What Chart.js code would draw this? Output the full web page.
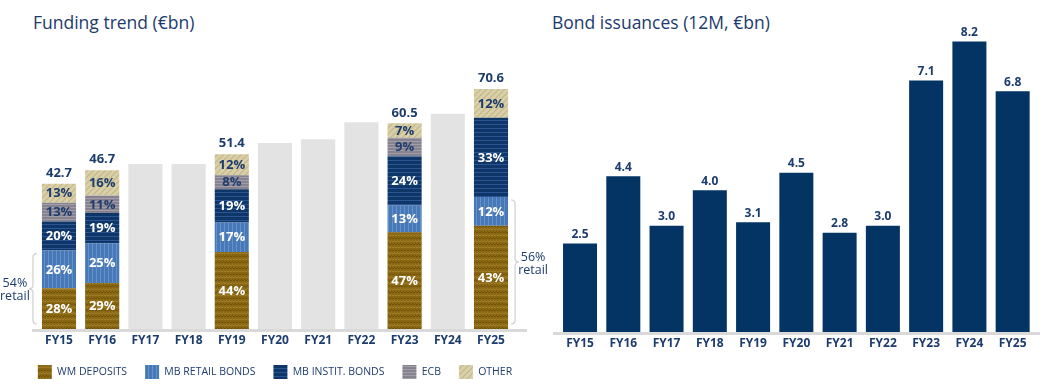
<!DOCTYPE html>
<html><head><meta charset="utf-8">
<script src="https://cdn.jsdelivr.net/npm/chart.js@4"></script>
<style>
html,body{margin:0;padding:0;background:#fff;}
body{width:1043px;height:390px;overflow:hidden;position:relative;font-family:'Open Sans',sans-serif;}
.title{position:absolute;top:10px;font-size:17.5px;color:#1b3b6c;white-space:nowrap;}
#w1{position:absolute;left:0;top:0;width:550px;height:390px;}
#w2{position:absolute;left:550px;top:0;width:493px;height:390px;}
</style></head><body>
<div class="title" style="left:33px">Funding trend (€bn)</div>
<div class="title" style="left:552px">Bond issuances (12M, €bn)</div>
<div id="w1"><canvas id="c1"></canvas></div>
<div id="w2"><canvas id="c2"></canvas></div>
<script>
// ---------- DATA ----------
const categories = ['FY15','FY16','FY17','FY18','FY19','FY20','FY21','FY22','FY23','FY24','FY25'];
const fundingTotals = [42.7, 46.7, 48.5, 48.5, 51.4, 54.7, 55.8, 60.8, 60.5, 63.3, 70.6];
const hasBreakdown = [true, true, false, false, true, false, false, false, true, false, true];
const wmDepositsPct = [28, 29, null, null, 44, null, null, null, 47, null, 43];
const mbRetailPct   = [26, 25, null, null, 17, null, null, null, 13, null, 12];
const mbInstitPct   = [20, 19, null, null, 19, null, null, null, 24, null, 33];
const ecbPct        = [13, 11, null, null, 8,  null, null, null, 9,  null, 0];
const otherPct      = [13, 16, null, null, 12, null, null, null, 7,  null, 12];
const seriesNames = ['WM DEPOSITS','MB RETAIL BONDS','MB INSTIT. BONDS','ECB','OTHER'];
const retailNotes = [{cat:'FY15', text:['54%','retail'], side:'left'}, {cat:'FY25', text:['56%','retail'], side:'right'}];
const bondIssuances = [2.5, 4.4, 3.0, 4.0, 3.1, 4.5, 2.8, 3.0, 7.1, 8.2, 6.8];

// ---------- STYLE ----------
const FONT = "'Open Sans', sans-serif";
const NAVY_TXT = '#1d3c6e';
function tile(w,h,base,draw){const c=document.createElement('canvas');c.width=w;c.height=h;const x=c.getContext('2d');x.fillStyle=base;x.fillRect(0,0,w,h);draw(x);return x.createPattern(c,'repeat');}
const pWM = tile(6,6,'#8a6813',x=>{x.strokeStyle='#a3802a';x.lineWidth=1;x.beginPath();x.moveTo(0,2);x.lineTo(1.5,0.5);x.lineTo(3,2);x.lineTo(4.5,0.5);x.lineTo(6,2);x.stroke();x.strokeStyle='#72550b';x.beginPath();x.moveTo(0,5);x.lineTo(1.5,3.5);x.lineTo(3,5);x.lineTo(4.5,3.5);x.lineTo(6,5);x.stroke();});
const pRetail = tile(4,1,'#4878b6',x=>{x.fillStyle='#6391cc';x.fillRect(0,0,1,1);});
const pInstit = tile(1,4,'#0f3668',x=>{x.fillStyle='#2a5590';x.fillRect(0,0,1,1);});
const pECB = tile(1,3,'#878290',x=>{x.fillStyle='#a29ea8';x.fillRect(0,0,1,1);});
const pOther = tile(6,6,'#d9d0a8',x=>{x.strokeStyle='#c2b68a';x.lineWidth=1.2;x.beginPath();x.moveTo(0,6);x.lineTo(6,0);x.moveTo(-3,3);x.lineTo(3,-3);x.moveTo(3,9);x.lineTo(9,3);x.stroke();});
const fills = [pWM,pRetail,pInstit,pECB,pOther];
const txtColors = ['#ffffff','#ffffff','#ffffff',NAVY_TXT,NAVY_TXT];

const pctArrays = [wmDepositsPct, mbRetailPct, mbInstitPct, ecbPct, otherPct];
const fundingDatasets = pctArrays.map((arr,i)=>({
  label: seriesNames[i],
  data: arr.map((p,j)=> p==null ? null : fundingTotals[j]*p/100),
  backgroundColor: fills[i], borderWidth: 0, stack:'s'
}));
fundingDatasets.push({
  label:'total', data: fundingTotals.map((v,j)=> hasBreakdown[j] ? null : v),
  backgroundColor:'#e3e3e3', borderWidth:0, stack:'s'
});

const axisLine = {
  id:'axisLine',
  beforeDatasetsDraw(chart, args, o){
    const a = chart.chartArea, c = chart.ctx;
    c.save(); c.fillStyle = '#d9d9d9';
    c.fillRect(a.left - o.extL, a.bottom, a.right - a.left + o.extL + o.extR, 3);
    c.restore();
  }
};

const fundingLabels = {
  id:'fundingLabels',
  afterDatasetsDraw(chart){
    const c = chart.ctx; c.save();
    c.textAlign='center'; c.textBaseline='middle';
    c.font = "bold 13px " + FONT;
    for (let i=0;i<5;i++){
      const meta = chart.getDatasetMeta(i);
      meta.data.forEach((el,j)=>{
        const p = pctArrays[i][j];
        if (!p) return;
        c.fillStyle = txtColors[i];
        c.fillText(p+'%', el.x, (el.y+el.base)/2 + 0.5);
      });
    }
    const ys = chart.scales.y;
    c.fillStyle = NAVY_TXT; c.textBaseline='bottom'; c.font = "bold 13px " + FONT;
    const meta0 = chart.getDatasetMeta(0);
    fundingTotals.forEach((t,j)=>{
      if (!hasBreakdown[j]) return;
      c.fillText(t.toFixed(1), meta0.data[j].x, ys.getPixelForValue(t) - 4);
    });
    // retail brackets
    c.strokeStyle = '#cfcfcf'; c.lineWidth = 1.2;
    retailNotes.forEach(n=>{
      const j = categories.indexOf(n.cat);
      const el0 = chart.getDatasetMeta(0).data[j];
      const el1 = chart.getDatasetMeta(1).data[j];
      const half = el0.width/2;
      const top = el1.y + 3, bot = el0.base - 5, mid = (top+bot)/2, r = 4;
      let xe, xm, xt, tx;
      if (n.side==='left'){ xe = el0.x - half - 5; xm = xe - 4; xt = xm - 4; tx = xt - 14; }
      else { xe = el0.x + half + 3; xm = xe + 4; xt = xm + 4; tx = xt + 14; }
      c.beginPath();
      c.moveTo(xe, top); c.quadraticCurveTo(xm, top, xm, top + r);
      c.lineTo(xm, mid - r); c.quadraticCurveTo(xm, mid, xt, mid);
      c.quadraticCurveTo(xm, mid, xm, mid + r); c.lineTo(xm, bot - r);
      c.quadraticCurveTo(xm, bot, xe, bot); c.stroke();
      c.fillStyle = NAVY_TXT; c.font = "12.5px " + FONT; c.textBaseline='middle';
      c.fillText(n.text[0], tx, mid - 5);
      c.fillText(n.text[1], tx, mid + 8);
    });
    c.restore();
  }
};

const hiddenAxis = (pos, w) => ({
  type:'linear', position:pos, display:true, min:0, max:80,
  ticks:{display:false}, grid:{display:false, drawTicks:false}, border:{display:false},
  afterFit:(s)=>{s.width=w;}
});

new Chart(document.getElementById('c1'), {
  type:'bar',
  data:{labels: categories, datasets: fundingDatasets},
  options:{
    responsive:true, maintainAspectRatio:false, animation:false,
    datasets:{bar:{barPercentage:0.79, categoryPercentage:1}},
    layout:{padding:{left:0, right:0, top:57, bottom:1}},
    plugins:{
      tooltip:{enabled:false},
      axisLine:{extL:5.4, extR:14.4},
      legend:{position:'bottom', labels:{
        filter:(item)=> item.datasetIndex < 5,
        boxWidth:14, boxHeight:14, padding:18, color:NAVY_TXT,
        font:{size:10.5, family:FONT}
      }}
    },
    scales:{
      x:{stacked:true, grid:{display:false, drawTicks:false}, border:{display:false},
         ticks:{color:NAVY_TXT, padding:4, font:{size:12, weight:'bold', family:FONT}},
         afterFit:(s)=>{s.height=18;}},
      y:Object.assign(hiddenAxis('left', 37.4), {stacked:true}),
      yR:hiddenAxis('right', 37.4)
    }
  },
  plugins:[axisLine, fundingLabels]
});

const bondLabels = {
  id:'bondLabels',
  afterDatasetsDraw(chart){
    const c = chart.ctx; c.save();
    c.textAlign='center'; c.textBaseline='bottom'; c.fillStyle = NAVY_TXT;
    c.font = "bold 12px " + FONT;
    chart.getDatasetMeta(0).data.forEach((el,j)=>{
      c.fillText(bondIssuances[j].toFixed(1), el.x, el.y - 3);
    });
    c.restore();
  }
};

new Chart(document.getElementById('c2'), {
  type:'bar',
  data:{labels: categories, datasets:[{label:'Bond issuances', data: bondIssuances, backgroundColor:'#033463', borderWidth:0}]},
  options:{
    responsive:true, maintainAspectRatio:false, animation:false,
    datasets:{bar:{barPercentage:0.786, categoryPercentage:1}},
    layout:{padding:{left:8.4, right:8.7, top:31, bottom:34}},
    plugins:{tooltip:{enabled:false}, legend:{display:false}, axisLine:{extL:5.4, extR:5.7}},
    scales:{
      x:{grid:{display:false, drawTicks:false}, border:{display:false},
         ticks:{color:NAVY_TXT, padding:4, font:{size:12, weight:'bold', family:FONT}},
         afterFit:(s)=>{s.height=24;}},
      y:{display:false, min:0, max:8.5}
    }
  },
  plugins:[axisLine, bondLabels]
});
</script>
</body></html>
